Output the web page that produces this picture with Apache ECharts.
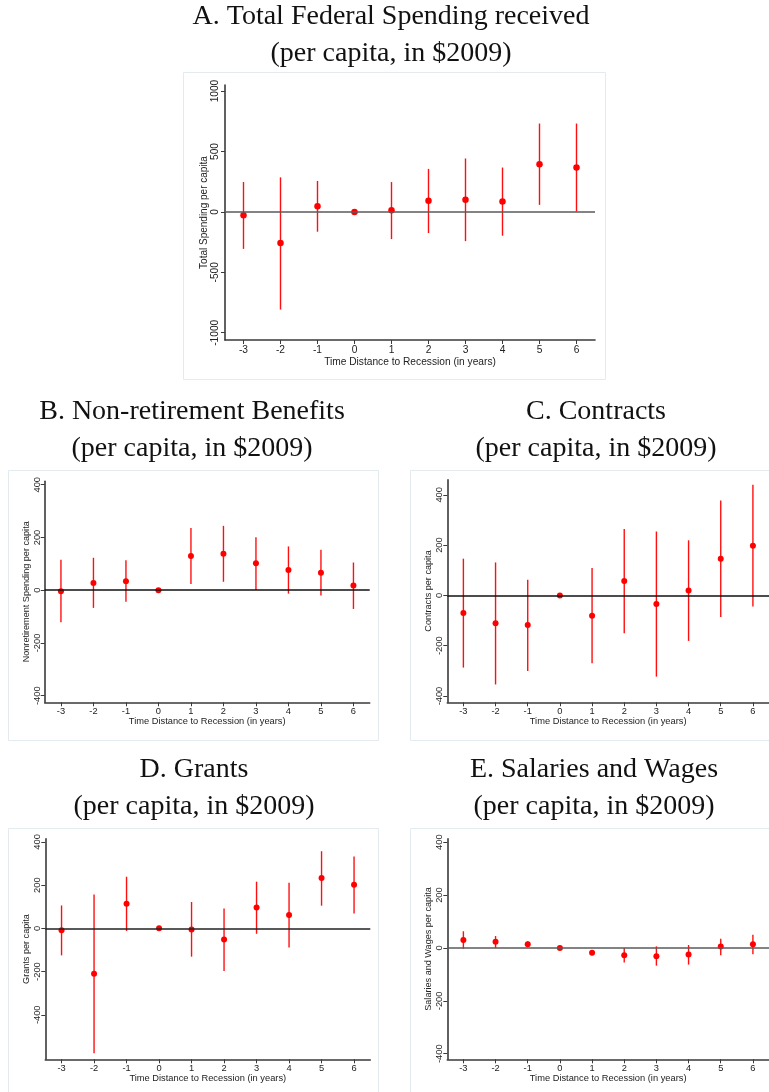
<!DOCTYPE html>
<html>
<head>
<meta charset="utf-8">
<script src="https://cdn.jsdelivr.net/npm/echarts@6/dist/echarts.min.js"></script>
<style>
html,body{margin:0;padding:0;background:#fff;}
#chart{width:769px;height:1092px;}
</style>
</head>
<body>
<div id="chart"></div>
<script>
// ---- Data ----
const years = [-3, -2, -1, 0, 1, 2, 3, 4, 5, 6];
const xTicks = [-3, -2, -1, 0, 1, 2, 3, 4, 5, 6];
const yTicksTotal = [-1000, -500, 0, 500, 1000];
const yTicksSmall = [-400, -200, 0, 200, 400];

const totalEst = [-28, -258, 47, 0, 14, 92, 100, 86, 394, 367];
const totalLo  = [-306, -808, -164, null, -225, -175, -242, -197, 58, 3];
const totalHi  = [247, 286, 256, null, 247, 356, 442, 367, 731, 731];

const nonretEst = [-4, 27, 34, 0, 130, 138, 102, 77, 66, 18];
const nonretLo  = [-121, -67, -44, null, 24, 32, 1, -13, -20, -71];
const nonretHi  = [116, 123, 114, null, 236, 244, 201, 166, 153, 105];

const contrEst = [-70, -111, -118, 0, -81, 57, -34, 19, 146, 197];
const contrLo  = [-287, -354, -301, null, -270, -150, -323, -181, -86, -44];
const contrHi  = [146, 131, 62, null, 109, 264, 254, 219, 377, 440];

const grantEst = [-9, -210, 114, 0, -5, -52, 96, 62, 233, 202];
const grantLo  = [-125, -578, -12, null, -131, -197, -25, -89, 105, 69];
const grantHi  = [106, 157, 239, null, 122, 92, 216, 211, 357, 333];

const salEst = [30, 23, 14, 0, -18, -28, -31, -25, 5, 14];
const salLo  = [-3, 0, 3, null, -28, -55, -67, -63, -28, -24];
const salHi  = [63, 45, 25, null, -8, 0, 6, 11, 35, 50];

const xTitle = 'Time Distance to Recession (in years)';
const subTitle = '(per capita, in $2009)';

// ---- Layout ----
const panels = [
  {title: 'A. Total Federal Spending received', yName: 'Total Spending per capita',
   est: totalEst, lo: totalLo, hi: totalHi, yTicks: yTicksTotal, ymin: -1060, ymax: 1050,
   grid: {left: 225, top: 85, width: 370, height: 255}, box: [183, 72, 422, 307],
   tx: 391, ty: 17, zero: '#5a5a5a', fs: 9.7, nameGapX: 17, nameGapY: 16, labM: 5, sym: 6.5},
  {title: 'B. Non-retirement Benefits', yName: 'Nonretirement Spending per capita',
   est: nonretEst, lo: nonretLo, hi: nonretHi, yTicks: yTicksSmall, ymin: -425, ymax: 413,
   grid: {left: 44.7, top: 481.3, width: 325, height: 221}, box: [8, 470, 370, 270],
   tx: 192, ty: 412, zero: '#111', fs: 8.8, nameGapX: 15, nameGapY: 14, labM: 3, sym: 6},
  {title: 'C. Contracts', yName: 'Contracts per capita',
   est: contrEst, lo: contrLo, hi: contrHi, yTicks: yTicksSmall, ymin: -425, ymax: 460,
   grid: {left: 447.3, top: 479.7, width: 325, height: 222.6}, box: [410, 470, 370, 270],
   tx: 596, ty: 412, zero: '#111', fs: 8.8, nameGapX: 15, nameGapY: 14, labM: 3, sym: 6},
  {title: 'D. Grants', yName: 'Grants per capita',
   est: grantEst, lo: grantLo, hi: grantHi, yTicks: yTicksSmall, ymin: -606, ymax: 415,
   grid: {left: 45.3, top: 838.7, width: 325, height: 220.6}, box: [8, 828, 370, 270],
   tx: 194, ty: 770, zero: '#222', fs: 8.8, nameGapX: 15, nameGapY: 14, labM: 3, sym: 6},
  {title: 'E. Salaries and Wages', yName: 'Salaries and Wages per capita',
   est: salEst, lo: salLo, hi: salHi, yTicks: yTicksSmall, ymin: -421, ymax: 413,
   grid: {left: 447.3, top: 838.7, width: 325, height: 220.6}, box: [410, 828, 370, 270],
   tx: 594, ty: 770, zero: '#5a5a5a', fs: 8.8, nameGapX: 15, nameGapY: 14, labM: 3, sym: 6}
];

const axisColor = '#3a3a3a';
const sans = '"Liberation Sans", Arial, sans-serif';
const serif = '"Liberation Serif", "Times New Roman", serif';

const grids = [], xAxes = [], yAxes = [], series = [], graphics = [];

panels.forEach((p, i) => {
  graphics.push({type: 'rect', silent: true, z: -10,
    shape: {x: p.box[0] + 0.5, y: p.box[1] + 0.5, width: p.box[2], height: p.box[3]},
    style: {fill: '#fff', stroke: '#e3ebee', lineWidth: 1}});
  graphics.push({type: 'text', silent: true, x: p.tx, y: p.ty,
    style: {text: p.title, textAlign: 'center', textVerticalAlign: 'middle',
      font: '28px ' + serif, fill: '#111'}});
  graphics.push({type: 'text', silent: true, x: p.tx, y: p.ty + 37,
    style: {text: subTitle, textAlign: 'center', textVerticalAlign: 'middle',
      font: '28px ' + serif, fill: '#111'}});

  grids.push(Object.assign({containLabel: false}, p.grid));
  xAxes.push({
    gridIndex: i, type: 'value', min: -3.5, max: 6.5,
    name: xTitle, nameLocation: 'middle', nameGap: p.nameGapX,
    nameTextStyle: {fontFamily: sans, fontSize: p.fs + 0.5, color: '#222'},
    axisLine: {show: true, onZero: false, lineStyle: {color: axisColor, width: 1.6}},
    axisTick: {show: true, length: 4, customValues: xTicks, lineStyle: {color: axisColor, width: 1}},
    axisLabel: {customValues: xTicks, margin: 5, fontFamily: sans, fontSize: p.fs + 0.5, color: '#222',
      formatter: v => String(v)},
    splitLine: {show: false}
  });
  yAxes.push({
    gridIndex: i, type: 'value', min: p.ymin, max: p.ymax,
    name: p.yName, nameLocation: 'middle', nameGap: p.nameGapY, nameRotate: 90,
    nameTextStyle: {fontFamily: sans, fontSize: p.fs + 0.3, color: '#222'},
    axisLine: {show: true, onZero: false, lineStyle: {color: axisColor, width: 1.6}},
    axisTick: {show: true, length: 4, customValues: p.yTicks, lineStyle: {color: axisColor, width: 1}},
    axisLabel: {customValues: p.yTicks, rotate: 90, margin: p.labM, fontFamily: sans,
      fontSize: p.fs + 0.5, color: '#222', formatter: v => String(v)},
    splitLine: {show: false}
  });

  const ci = [];
  years.forEach((y, k) => { if (p.lo[k] !== null) ci.push([y, p.lo[k], p.hi[k]]); });

  series.push({
    type: 'custom', xAxisIndex: i, yAxisIndex: i, z: 2, silent: true,
    data: ci,
    encode: {x: 0, y: [1, 2]},
    renderItem: function (params, api) {
      const a = api.coord([api.value(0), api.value(1)]);
      const b = api.coord([api.value(0), api.value(2)]);
      return {type: 'line', shape: {x1: a[0], y1: a[1], x2: b[0], y2: b[1]},
        style: {stroke: '#ff1010', lineWidth: 1.4}};
    },
    markLine: {silent: true, symbol: ['none', 'none'], label: {show: false},
      lineStyle: {color: p.zero, width: 1.6, type: 'solid'},
      emphasis: {disabled: true},
      data: [{yAxis: 0}]}
  });
  series.push({
    type: 'scatter', xAxisIndex: i, yAxisIndex: i, z: 4, silent: true,
    symbol: 'circle', symbolSize: p.sym,
    itemStyle: {color: '#ff0000', opacity: 1},
    data: years.map((y, k) => [y, p.est[k]])
  });
});

const chart = echarts.init(document.getElementById('chart'), null, {renderer: 'canvas'});
chart.setOption({
  animation: false,
  backgroundColor: '#ffffff',
  grid: grids,
  xAxis: xAxes,
  yAxis: yAxes,
  series: series,
  graphic: graphics
});
</script>
</body>
</html>
